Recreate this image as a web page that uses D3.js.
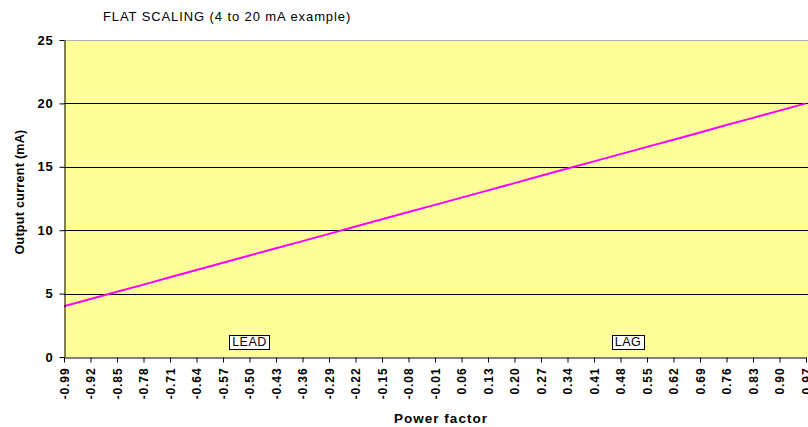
<!DOCTYPE html>
<html><head><meta charset="utf-8">
<script src="https://cdn.jsdelivr.net/npm/d3@7"></script>
<style>
html,body{margin:0;padding:0;background:#fff;}
svg{display:block;font-family:"Liberation Sans",Arial,sans-serif;}
</style></head>
<body><svg id="c" width="808" height="427"></svg>
<script>
const powerFactor = [-0.99,-0.92,-0.85,-0.78,-0.71,-0.64,-0.57,-0.50,-0.43,-0.36,-0.29,-0.22,-0.15,-0.08,-0.01,0.06,0.13,0.20,0.27,0.34,0.41,0.48,0.55,0.62,0.69,0.76,0.83,0.90,0.97];
const outputCurrent = [4.00,4.57,5.14,5.71,6.29,6.86,7.43,8.00,8.57,9.14,9.71,10.29,10.86,11.43,12.00,12.57,13.14,13.71,14.29,14.86,15.43,16.00,16.57,17.14,17.71,18.29,18.86,19.43,20.00];
const yTicks = [0,5,10,15,20,25];
const annotations = [{label:"LEAD", pf:-0.50, y:1.2},{label:"LAG", pf:0.50, y:1.2}];
const titleText = "FLAT SCALING (4 to 20 mA example)";

const svg = d3.select("#c");
const L=64, R=806, T=40, B=357;
const x = d3.scaleLinear().domain([-0.99,0.97]).range([L,R]);
const y = d3.scaleLinear().domain([0,25]).range([B,T]);
const fmt = d => d3.format(".2f")(d).replace("\u2212","-");

svg.append("rect").attr("x",L).attr("y",T).attr("width",808-L).attr("height",B-T).attr("fill","#ffff99");

// gridlines
svg.append("g").selectAll("line").data(yTicks.filter(d=>d>0)).join("line")
  .attr("x1",L).attr("x2",808).attr("y1",d=>Math.round(y(d))+0.5).attr("y2",d=>Math.round(y(d))+0.5)
  .attr("stroke",d=>d===25?"#b0b0b0":"#000").attr("stroke-width",1);

// line
svg.append("path").datum(powerFactor.map((p,i)=>[p,outputCurrent[i]]))
  .attr("d",d3.line().x(d=>x(d[0])).y(d=>y(d[1])))
  .attr("fill","none").attr("stroke","#ff00ff").attr("stroke-width",2);

// y axis
const ya = svg.append("g").attr("transform",`translate(${L+0.5},0)`)
  .call(d3.axisLeft(y).tickValues(yTicks).tickSize(5).tickSizeOuter(0).tickPadding(6));
ya.select(".domain").attr("stroke","#000");
ya.selectAll("text").attr("font-size",13).attr("font-weight","bold").attr("fill","#000")
  .attr("letter-spacing","0.8px").attr("font-family","Liberation Sans, Arial, sans-serif");

// x axis
const xa = svg.append("g").attr("transform",`translate(0,${B+0.5})`)
  .call(d3.axisBottom(x).tickValues(powerFactor).tickFormat(fmt).tickSize(5).tickSizeOuter(0));
xa.select(".domain").attr("stroke","#000");
xa.selectAll("text").attr("font-size",12).attr("font-weight","bold").attr("fill","#000")
  .attr("letter-spacing","0.9px").attr("font-family","Liberation Sans, Arial, sans-serif")
  .attr("transform","rotate(-90)").attr("text-anchor","end").attr("dy","0.35em").attr("x",-10).attr("y",0);

// annotations
annotations.forEach(a=>{
  const g = svg.append("g");
  const t = g.append("text").attr("x",x(a.pf)).attr("y",y(a.y)).attr("text-anchor","middle")
    .attr("dy","0.35em").attr("font-size",12.5).attr("letter-spacing","0.5px").attr("fill","#000").text(a.label);
  const bb = t.node().getBBox();
  g.insert("rect","text").attr("x",Math.round(bb.x-3)+0.5).attr("y",Math.round(bb.y)+0.5)
    .attr("width",Math.round(bb.width+5)).attr("height",Math.round(bb.height))
    .attr("fill","#fff").attr("stroke","#000").attr("stroke-width",1);
});

// titles
svg.append("text").attr("x",103).attr("y",21).attr("font-size",13).attr("letter-spacing","0.9px")
  .attr("fill","#000").text(titleText);
svg.append("text").attr("transform","translate(24,192) rotate(-90)").attr("text-anchor","middle")
  .attr("font-size",12.5).attr("font-weight","bold").attr("letter-spacing","0.3px").attr("fill","#000").text("Output current (mA)");
svg.append("text").attr("x",441).attr("y",423).attr("text-anchor","middle")
  .attr("font-size",13.5).attr("font-weight","bold").attr("letter-spacing","1px").attr("fill","#000").text("Power factor");
</script></body></html>
